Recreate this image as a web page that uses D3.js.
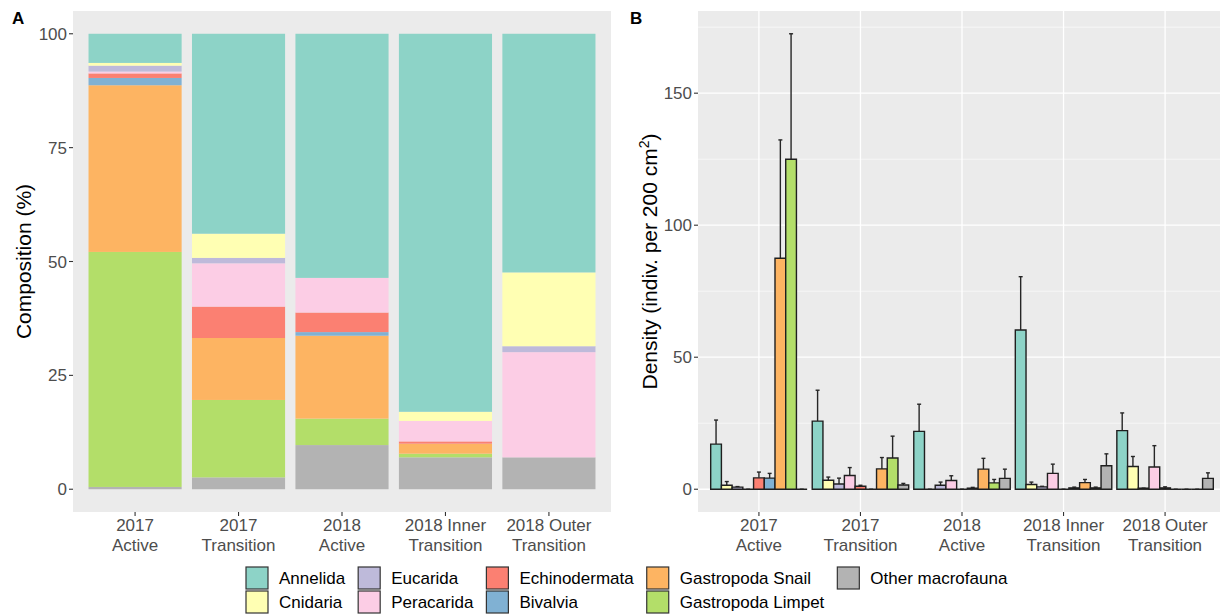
<!DOCTYPE html>
<html>
<head>
<meta charset="utf-8">
<script src="https://cdn.jsdelivr.net/npm/d3@7"></script>
<style>
  body { margin: 0; background: #fff; }
  svg { font-family: "Liberation Sans", Arial, sans-serif; display: block; }
</style>
</head>
<body>
<svg id="chart" width="1220" height="614"></svg>
<script>
// sites (x categories) and their two-line tick labels
var sites = ["2017 Active", "2017 Transition", "2018 Active", "2018 Inner Transition", "2018 Outer Transition"];
var siteLabels = [["2017", "Active"], ["2017", "Transition"], ["2018", "Active"], ["2018 Inner", "Transition"], ["2018 Outer", "Transition"]];

var taxa = ["Annelida", "Cnidaria", "Eucarida", "Peracarida", "Echinodermata",
            "Bivalvia", "Gastropoda Snail", "Gastropoda Limpet", "Other macrofauna"];
var taxaColors = ["#8DD3C7", "#FFFFB3", "#BEBADA", "#FCCDE5", "#FB8072",
                  "#80B1D3", "#FDB462", "#B3DE69", "#B3B3B3"];

// composition (%) per site, in taxa order
var composition = [
    [6.4, 0.6, 1.3, 0.4, 1.0, 1.6, 36.6, 51.6, 0.5],
    [43.9, 5.3, 1.2, 9.5, 6.9, 0, 13.6, 17.0, 2.6],
    [53.6, 0, 0, 7.6, 4.3, 0.8, 18.2, 5.8, 9.7],
    [83.0, 2.0, 0, 4.5, 0.5, 0, 2.2, 0.8, 7.0],
    [52.4, 16.2, 1.3, 23.1, 0, 0, 0, 0, 7.0]
];

// mean density (indiv. per 200 cm2) per site, in taxa order
var density = [
    [17.1, 1.5, 0.8, 0, 4.3, 4.2, 87.5, 125.0, 0],
    [25.8, 3.4, 2.0, 5.2, 1.1, 0, 7.7, 11.8, 1.6],
    [21.9, 0, 1.5, 3.3, 0, 0.4, 7.6, 2.4, 4.1],
    [60.3, 1.8, 0.9, 6.0, 0, 0.5, 2.5, 0.5, 8.9],
    [22.2, 8.6, 0.4, 8.4, 0.5, 0, 0, 0, 4.1]
];

// standard error of density
var densitySE = [
    [9.1, 1.4, 0.2, 0, 2.2, 1.8, 44.8, 47.5, 0],
    [11.7, 1.2, 2.2, 3.0, 0.4, 0, 4.3, 8.3, 0.6],
    [10.3, 0, 1.2, 1.8, 0, 0.3, 4.1, 1.3, 3.5],
    [20.2, 0.9, 0.2, 3.5, 0, 0.3, 1.2, 0.3, 4.5],
    [6.7, 3.8, 0, 8.1, 0.4, 0, 0, 0, 2.1]
];

var svg = d3.select("#chart");
var tickColor = "#333333", tickText = "#4D4D4D", panelBg = "#EBEBEB";
var tickSize = 17, titleSize = 21;

function xAxisLabels(g, xScale, bottom) {
    sites.forEach(function (s, i) {
        var cx = xScale(s) + xScale.bandwidth() / 2;
        g.append("line").attr("x1", cx).attr("x2", cx)
            .attr("y1", bottom).attr("y2", bottom + 4)
            .attr("stroke", tickColor).attr("stroke-width", 1.1);
        var t = g.append("text").attr("text-anchor", "middle")
            .attr("fill", tickText).attr("font-size", tickSize);
        t.append("tspan").attr("x", cx).attr("y", bottom + 19).text(siteLabels[i][0]);
        t.append("tspan").attr("x", cx).attr("y", bottom + 39).text(siteLabels[i][1]);
    });
}

function yAxis(g, yScale, ticks, left) {
    ticks.forEach(function (v) {
        var y = yScale(v);
        g.append("line").attr("x1", left - 4).attr("x2", left)
            .attr("y1", y).attr("y2", y)
            .attr("stroke", tickColor).attr("stroke-width", 1.1);
        g.append("text").attr("x", left - 6).attr("y", y + 6)
            .attr("text-anchor", "end").attr("fill", tickText)
            .attr("font-size", tickSize).text(v);
    });
}

// ---------- Panel A: stacked composition ----------
var A = {left: 73, right: 611, top: 11, bottom: 512};
var gA = svg.append("g");

var xA = d3.scaleBand().domain(sites)
    .range([A.left, A.right]).paddingInner(0.1).paddingOuter(0.15);
var yA = d3.scaleLinear().domain([-5, 105]).range([A.bottom, A.top]);

gA.append("rect").attr("x", A.left).attr("y", A.top)
    .attr("width", A.right - A.left).attr("height", A.bottom - A.top)
    .attr("fill", panelBg);

// stack bottom-up: last taxon at bottom
var stackOrder = d3.range(taxa.length).reverse();
var stackRows = sites.map(function (s, i) {
    var row = {site: s};
    taxa.forEach(function (t, j) { row[t] = composition[i][j]; });
    return row;
});
var stackGen = d3.stack().keys(stackOrder.map(function (j) { return taxa[j]; }));
var layers = stackGen(stackRows);

gA.selectAll("g.layer").data(layers).enter().append("g")
    .attr("class", "layer")
    .attr("fill", function (d) { return taxaColors[taxa.indexOf(d.key)]; })
    .selectAll("rect").data(function (d) { return d; }).enter().append("rect")
    .attr("x", function (d) { return xA(d.data.site); })
    .attr("width", xA.bandwidth())
    .attr("y", function (d) { return yA(d[1]); })
    .attr("height", function (d) { return yA(d[0]) - yA(d[1]); });

yAxis(gA, yA, [0, 25, 50, 75, 100], A.left);
xAxisLabels(gA, xA, A.bottom);

gA.append("text").attr("transform", "translate(31," + ((A.top + A.bottom) / 2) + ") rotate(-90)")
    .attr("text-anchor", "middle").attr("font-size", titleSize).attr("fill", "#000")
    .text("Composition (%)");
gA.append("text").attr("x", 12).attr("y", 24).attr("font-size", 17)
    .attr("font-weight", "bold").text("A");

// ---------- Panel B: dodged density bars ----------
var B = {left: 698, right: 1226, top: 11, bottom: 512};
var gB = svg.append("g");

var xB = d3.scaleBand().domain(sites)
    .range([B.left, B.right]).paddingInner(0.05).paddingOuter(0.125);
var xInner = d3.scaleBand().domain(taxa).range([0, xB.bandwidth()]);
var maxTop = d3.max(density, function (r, i) {
    return d3.max(r, function (v, j) { return v + densitySE[i][j]; });
});
var yB = d3.scaleLinear().domain([-0.05 * maxTop, 1.05 * maxTop]).range([B.bottom, B.top]);

gB.append("rect").attr("x", B.left).attr("y", B.top)
    .attr("width", B.right - B.left).attr("height", B.bottom - B.top)
    .attr("fill", panelBg);

// minor and major grid
[25, 75, 125, 175].forEach(function (v) {
    gB.append("line").attr("x1", B.left).attr("x2", B.right)
        .attr("y1", yB(v)).attr("y2", yB(v))
        .attr("stroke", "#fff").attr("stroke-width", 0.6);
});
[0, 50, 100, 150].forEach(function (v) {
    gB.append("line").attr("x1", B.left).attr("x2", B.right)
        .attr("y1", yB(v)).attr("y2", yB(v))
        .attr("stroke", "#fff").attr("stroke-width", 1.3);
});
sites.forEach(function (s) {
    var cx = xB(s) + xB.bandwidth() / 2;
    gB.append("line").attr("x1", cx).attr("x2", cx)
        .attr("y1", B.top).attr("y2", B.bottom)
        .attr("stroke", "#fff").attr("stroke-width", 1.3);
});

var barData = [];
sites.forEach(function (s, i) {
    taxa.forEach(function (t, j) {
        barData.push({site: s, taxon: t, color: taxaColors[j],
                      mean: density[i][j], se: densitySE[i][j]});
    });
});

function barCenter(d) {
    return xB(d.site) + xInner(d.taxon) + xInner.bandwidth() / 2;
}

// error bars (upper part only visible above bars)
var eb = gB.selectAll("g.err").data(barData).enter().append("g")
    .attr("class", "err")
    .attr("stroke", "#262626").attr("stroke-width", 1.4);
eb.append("line")
    .attr("x1", barCenter).attr("x2", barCenter)
    .attr("y1", function (d) { return yB(d.mean); })
    .attr("y2", function (d) { return yB(d.mean + d.se); });
eb.append("line")
    .attr("x1", function (d) { return barCenter(d) - 2; })
    .attr("x2", function (d) { return barCenter(d) + 2; })
    .attr("y1", function (d) { return yB(d.mean + d.se); })
    .attr("y2", function (d) { return yB(d.mean + d.se); });

// bars as paths so zero-height bars still show their outline
gB.selectAll("path.bar").data(barData).enter().append("path")
    .attr("class", "bar")
    .attr("fill", function (d) { return d.color; })
    .attr("stroke", "#1f1f1f").attr("stroke-width", 1.4)
    .attr("d", function (d) {
        var x0 = xB(d.site) + xInner(d.taxon), x1 = x0 + xInner.bandwidth();
        var y0 = yB(0), y1 = yB(d.mean);
        return "M" + x0 + "," + y0 + "V" + y1 + "H" + x1 + "V" + y0 + "Z";
    });

yAxis(gB, yB, [0, 50, 100, 150], B.left);
xAxisLabels(gB, xB, B.bottom);

var yt = gB.append("text")
    .attr("transform", "translate(657," + ((B.top + B.bottom) / 2) + ") rotate(-90)")
    .attr("text-anchor", "middle").attr("font-size", titleSize).attr("fill", "#000");
yt.append("tspan").text("Density (indiv. per 200 cm");
yt.append("tspan").attr("font-size", 14).attr("dy", -8).text("2");
yt.append("tspan").attr("dy", 8).text(")");
gB.append("text").attr("x", 630).attr("y", 24).attr("font-size", 17)
    .attr("font-weight", "bold").text("B");

// ---------- Legend (two rows, filled by column) ----------
var gL = svg.append("g");
var legendX = 246, legendY = 567, keySize = 22, rowPitch = 24;
for (var col = 0; col * 2 < taxa.length; col++) {
    var maxW = 0;
    for (var row = 0; row < 2; row++) {
        var j = col * 2 + row;
        if (j >= taxa.length) break;
        var y = legendY + row * rowPitch;
        gL.append("rect").attr("x", legendX).attr("y", y)
            .attr("width", keySize).attr("height", keySize)
            .attr("fill", taxaColors[j]).attr("stroke", "#333").attr("stroke-width", 1.2);
        var txt = gL.append("text").attr("x", legendX + keySize + 11).attr("y", y + 17)
            .attr("font-size", 17).attr("fill", "#000").text(taxa[j]);
        maxW = Math.max(maxW, txt.node().getComputedTextLength());
    }
    legendX += keySize + 11 + maxW + 13;
}
</script>
</body>
</html>
